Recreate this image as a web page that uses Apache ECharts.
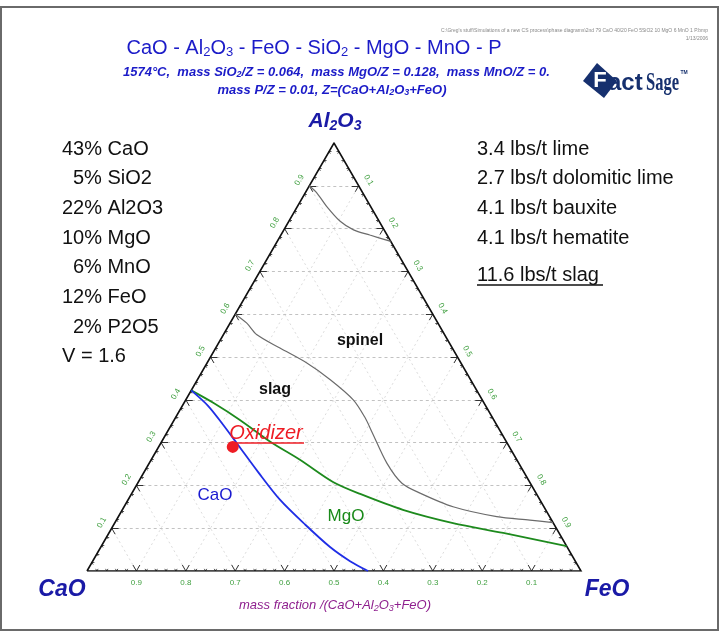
<!DOCTYPE html>
<html><head><meta charset="utf-8">
<script src="https://cdn.jsdelivr.net/npm/echarts@6/dist/echarts.min.js"></script>
<style>html,body{margin:0;padding:0;background:#fff}#c{width:728px;height:637px}</style>
</head><body><div id="c"></div>
<script>
// ---- data (mass fractions of Al2O3 and FeO; CaO = 1 - Al2O3 - FeO) ----
const tickValues = [0.1, 0.2, 0.3, 0.4, 0.5, 0.6, 0.7, 0.8, 0.9];
const tickLabels = ['0.1', '0.2', '0.3', '0.4', '0.5', '0.6', '0.7', '0.8', '0.9'];
const minorStep = 0.02;

const spinelTopAl2O3 = [0.90, 0.883, 0.852, 0.817, 0.797, 0.785, 0.770];
const spinelTopFeO   = [0.00, 0.024, 0.059, 0.104, 0.141, 0.180, 0.230];

const slagSpinelAl2O3 = [0.600, 0.579, 0.552, 0.521, 0.486, 0.447, 0.400, 0.358, 0.323, 0.252, 0.205, 0.182, 0.150, 0.127, 0.119, 0.113];
const slagSpinelFeO   = [0.000, 0.034, 0.068, 0.130, 0.202, 0.269, 0.339, 0.384, 0.416, 0.481, 0.535, 0.583, 0.666, 0.766, 0.837, 0.887];

const mgoAl2O3 = [0.422, 0.393, 0.353, 0.302, 0.260, 0.208, 0.180, 0.143, 0.112, 0.089, 0.058];
const mgoFeO   = [0.000, 0.059, 0.133, 0.220, 0.301, 0.394, 0.463, 0.568, 0.685, 0.798, 0.942];

const caoAl2O3 = [0.422, 0.386, 0.344, 0.295, 0.231, 0.166, 0.108, 0.056, 0.023, 0.000];
const caoFeO   = [0.000, 0.052, 0.102, 0.158, 0.231, 0.308, 0.388, 0.464, 0.521, 0.569];

const oxidizerAl2O3 = [0.29];
const oxidizerFeO   = [0.15];

const compositionLines = [['43% CaO', 2], ['5% SiO2', 1], ['22% Al2O3', 2], ['10% MgO', 2], ['6% MnO', 1], ['12% FeO', 2], ['2% P2O5', 1], ['V = 1.6', 2]];
const additionLines = ['3.4 lbs/t lime', '2.7 lbs/t dolomitic lime', '4.1 lbs/t bauxite', '4.1 lbs/t hematite'];
const slagLine = '11.6 lbs/t slag';

// ---- ternary transform ----
const H = Math.sqrt(3) / 2;
function toXY(al2o3, feo) { return [feo + al2o3 / 2, al2o3 * H]; }
function curve(aArr, fArr) { return aArr.map((a, i) => toXY(a, fArr[i])); }

// grid lines
const gridH = [], gridD = [];
tickValues.forEach(v => {
  gridH.push({coords: [toXY(v, 0), toXY(v, 1 - v)]});
  gridD.push({coords: [toXY(0, v), toXY(1 - v, v)]});
  gridD.push({coords: [toXY(1 - v, 0), toXY(0, 1 - v)]});
});
// ticks
function tickSegs(v, L, out) {
  out.push({coords: [toXY(0, 1 - v), toXY(L, 1 - v - L)]});
  out.push({coords: [toXY(0, 1 - v), toXY(L, 1 - v)]});
  out.push({coords: [toXY(v, 0), toXY(v, L)]});
  out.push({coords: [toXY(v, 0), toXY(v - L, L)]});
  out.push({coords: [toXY(1 - v, v), toXY(1 - v - L, v)]});
  out.push({coords: [toXY(1 - v, v), toXY(1 - v, v - L)]});
}
const majorTicks = [], minorTicks = [];
tickValues.forEach(v => tickSegs(v, 0.014, majorTicks));
for (let k = 1; k < Math.round(1 / minorStep); k++) {
  if (k % 5 === 0) continue;
  tickSegs(k * minorStep, 0.005, minorTicks);
}
const edges = [{coords: [toXY(0, 0), toXY(0, 1), toXY(1, 0), toXY(0, 0)]}];

// tick labels
const labelData = [];
const d = 0.023;
tickValues.forEach((v, i) => {
  const b = toXY(0, 1 - v);
  labelData.push({value: [b[0], b[1] - 0.024], label: {formatter: tickLabels[i], rotate: 0}});
  const l = toXY(v, 0);
  labelData.push({value: [l[0] - 0.866 * d, l[1] + 0.5 * d], label: {formatter: tickLabels[i], rotate: 60}});
  const r = toXY(1 - v, v);
  labelData.push({value: [r[0] + 0.866 * d, r[1] + 0.5 * d], label: {formatter: tickLabels[i], rotate: -60}});
});

// ---- text helpers ----
const FAM = '"Liberation Sans", Arial, sans-serif';
function txt(x, y, text, font, fill, align, rich) {
  const st = {text: text, font: font, fill: fill, textAlign: align || 'center', textVerticalAlign: 'middle', verticalAlign: 'middle'};
  if (rich) st.rich = rich;
  return {type: 'text', x: x, y: y, style: st, silent: true, z: 50};
}
function sub(font, fill, pad) { return {s: {font: font, fill: fill, padding: [pad, 0, 0, 0]}}; }

const TBLUE = '#1b1bc8';
const VBLUE = '#1a1aa6';
const LOGO = '#16306e';
const graphics = [];
graphics.push({type: 'rect', shape: {x: 1, y: 7, width: 717, height: 623}, style: {fill: 'none', stroke: '#6a6a6a', lineWidth: 2}, silent: true});
graphics.push(txt(708, 31, "C:\\Greg's stuff\\Simulations of a new CS process\\phase diagrams\\2nd 79 CaO 40/20 FeO 5SiO2 10 MgO 6 MnO 1 P.bmp", '5px ' + FAM, '#888', 'right'));
graphics.push(txt(708, 39, '1/13/2006', '5px ' + FAM, '#888', 'right'));
graphics.push(txt(314, 48, 'CaO - Al{s|2}O{s|3} - FeO - SiO{s|2} - MgO - MnO - P', '20px ' + FAM, TBLUE, 'center', sub('13px ' + FAM, TBLUE, 9)));
graphics.push(txt(123, 72, '1574°C,  mass SiO{s|2}/Z = 0.064,  mass MgO/Z = 0.128,  mass MnO/Z = 0.', 'italic bold 13px ' + FAM, TBLUE, 'left', sub('italic bold 9px ' + FAM, TBLUE, 6)));
graphics.push(txt(332, 90, 'mass P/Z = 0.01, Z=(CaO+Al{s|2}O{s|3}+FeO)', 'italic bold 13px ' + FAM, TBLUE, 'center', sub('italic bold 9px ' + FAM, TBLUE, 6)));
// logo
graphics.push({type: 'rect', shape: {x: 562, y: 58, width: 140, height: 44}, style: {fill: '#fff'}, silent: true, z: 60});
graphics.push({type: 'polygon', shape: {points: [[597, 63], [583, 81], [604, 98], [617, 81]]}, style: {fill: LOGO}, silent: true, z: 61});
graphics.push(Object.assign(txt(600, 81, 'F', 'bold 22px ' + FAM, '#fff', 'center'), {z: 62}));
graphics.push(Object.assign(txt(608, 83, 'act', 'bold 24px ' + FAM, LOGO, 'left'), {z: 62}));
graphics.push(Object.assign(txt(646, 84, 'Sage', 'bold 25px "Liberation Serif", serif', LOGO, 'left'), {z: 62, scaleX: 0.66}));
graphics.push(Object.assign(txt(684, 73, 'TM', 'bold 5px ' + FAM, LOGO, 'center'), {z: 62}));
// vertex labels
graphics.push(txt(335, 121, 'Al{s|2}O{s|3}', 'bold italic 21px ' + FAM, VBLUE, 'center', sub('bold italic 14px ' + FAM, VBLUE, 10)));
graphics.push(txt(62, 590, 'CaO', 'bold italic 23px ' + FAM, VBLUE, 'center'));
graphics.push(txt(607, 590, 'FeO', 'bold italic 23px ' + FAM, VBLUE, 'center'));
graphics.push(txt(335, 605, 'mass fraction /(CaO+Al{s|2}O{s|3}+FeO)', 'italic 13px ' + FAM, '#8e1f8e', 'center', sub('italic 9px ' + FAM, '#8e1f8e', 6)));
// text blocks
compositionLines.forEach((ln, i) => {
  graphics.push(txt(ln[1] === 2 ? 62 : 73, 149 + 29.7 * i, ln[0], '20px ' + FAM, '#111', 'left'));
});
additionLines.forEach((ln, i) => {
  graphics.push(txt(477, 149 + 29.7 * i, ln, '20px ' + FAM, '#111', 'left'));
});
graphics.push(txt(477, 275, slagLine, '20px ' + FAM, '#111', 'left'));
graphics.push({type: 'line', shape: {x1: 477, y1: 285, x2: 603, y2: 285}, style: {stroke: '#111', lineWidth: 1.5}, silent: true});
// region labels
graphics.push(txt(360, 341, 'spinel', 'bold 16px ' + FAM, '#111', 'center'));
graphics.push(txt(275, 390, 'slag', 'bold 16px ' + FAM, '#111', 'center'));
graphics.push(txt(215, 495, 'CaO', '17px ' + FAM, '#1a1ad0', 'center'));
graphics.push(txt(346, 516, 'MgO', '17px ' + FAM, '#1a8a1a', 'center'));
graphics.push(txt(266, 433, 'Oxidizer', 'italic 20px ' + FAM, '#ee1c24', 'center'));
graphics.push({type: 'line', shape: {x1: 229, y1: 443, x2: 304, y2: 443}, style: {stroke: '#ee1c24', lineWidth: 1.5}, silent: true, z: 50});

const chart = echarts.init(document.getElementById('c'));
chart.setOption({
  animation: false,
  backgroundColor: '#fff',
  grid: {left: 87, top: 143, width: 494, height: 428},
  xAxis: {type: 'value', min: 0, max: 1, show: false},
  yAxis: {type: 'value', min: 0, max: H, show: false},
  graphic: graphics,
  series: [
    {type: 'lines', coordinateSystem: 'cartesian2d', data: gridD, silent: true, z: 1,
      lineStyle: {color: '#dcdcdc', width: 1, type: [2, 3], opacity: 1}},
    {type: 'lines', coordinateSystem: 'cartesian2d', data: gridH, silent: true, z: 1,
      lineStyle: {color: '#c2c2c2', width: 1, type: [3, 3], opacity: 1}},
    {type: 'lines', coordinateSystem: 'cartesian2d', data: minorTicks, silent: true, z: 3,
      lineStyle: {color: '#555', width: 1, opacity: 1}},
    {type: 'lines', coordinateSystem: 'cartesian2d', data: majorTicks, silent: true, z: 3,
      lineStyle: {color: '#333', width: 1, opacity: 1}},
    {type: 'lines', coordinateSystem: 'cartesian2d', polyline: true, data: edges, silent: true, z: 4,
      lineStyle: {color: '#111', width: 1.6, opacity: 1}},
    {type: 'line', data: curve(spinelTopAl2O3, spinelTopFeO), smooth: 0.3, symbol: 'none', silent: true, z: 5,
      lineStyle: {color: '#6b6b6b', width: 1.2}},
    {type: 'line', data: curve(slagSpinelAl2O3, slagSpinelFeO), smooth: 0.3, symbol: 'none', silent: true, z: 5,
      lineStyle: {color: '#6b6b6b', width: 1.2}},
    {type: 'line', data: curve(mgoAl2O3, mgoFeO), smooth: 0.3, symbol: 'none', silent: true, z: 6,
      lineStyle: {color: '#1d8a1d', width: 1.8}},
    {type: 'line', data: curve(caoAl2O3, caoFeO), smooth: 0.3, symbol: 'none', silent: true, z: 6,
      lineStyle: {color: '#1f2ee6', width: 1.8}},
    {type: 'scatter', data: curve(oxidizerAl2O3, oxidizerFeO), symbolSize: 12, silent: true, z: 8,
      itemStyle: {color: '#ee1c24', opacity: 1}},
    {type: 'scatter', data: labelData, symbolSize: 1, silent: true, clip: false, z: 7,
      itemStyle: {color: 'rgba(0,0,0,0)'},
      label: {show: true, position: 'inside', color: '#3f9f3f', fontSize: 8, fontFamily: FAM, opacity: 1}}
  ]
});
</script></body></html>
